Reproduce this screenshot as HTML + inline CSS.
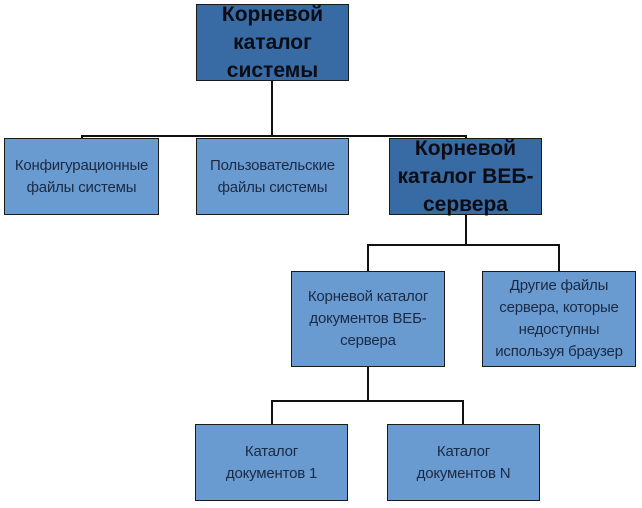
<!DOCTYPE html>
<html><head><meta charset="utf-8"><style>
body{margin:0;width:642px;height:508px;background:#fff;position:relative;overflow:hidden;font-family:"Liberation Sans","DejaVu Sans",sans-serif}
.b{position:absolute;box-sizing:border-box;border:1.5px solid #1a1a1a;display:flex;align-items:center;justify-content:center;text-align:center;color:#1a2a44;font-size:15px;line-height:22px;letter-spacing:-0.2px}
.l{background:#6a9bd0}
.d{background:#386aa3;color:#0c0c14;font-weight:bold;font-size:21px;line-height:28px;letter-spacing:0}
.h,.v{position:absolute;background:#111}
.h{height:2px}.v{width:2px}
</style></head><body>
<div class="v" style="left:271px;top:80px;height:57px"></div>
<div class="h" style="left:81px;top:135px;width:386px"></div>
<div class="v" style="left:81px;top:135px;height:4px"></div>
<div class="v" style="left:465px;top:135px;height:4px"></div>
<div class="v" style="left:465px;top:214px;height:32px"></div>
<div class="h" style="left:367px;top:244px;width:193px"></div>
<div class="v" style="left:367px;top:244px;height:28px"></div>
<div class="v" style="left:558px;top:244px;height:28px"></div>
<div class="v" style="left:367px;top:367px;height:35px"></div>
<div class="h" style="left:271px;top:400px;width:193px"></div>
<div class="v" style="left:271px;top:400px;height:25px"></div>
<div class="v" style="left:462px;top:400px;height:25px"></div>

<div class="b d" style="left:196px;top:4px;width:153px;height:77px">Корневой<br>каталог<br>системы</div>
<div class="b l" style="left:4px;top:138px;width:155px;height:77px">Конфигурационные<br>файлы системы</div>
<div class="b l" style="left:196px;top:138px;width:153px;height:77px">Пользовательские<br>файлы системы</div>
<div class="b d" style="left:389px;top:138px;width:153px;height:77px">Корневой<br>каталог ВЕБ-<br>сервера</div>
<div class="b l" style="left:291px;top:271px;width:154px;height:96px">Корневой каталог<br>документов ВЕБ-<br>сервера</div>
<div class="b l" style="left:482px;top:271px;width:154px;height:96px">Другие файлы<br>сервера, которые<br>недоступны<br>используя браузер</div>
<div class="b l" style="left:195px;top:424px;width:153px;height:77px">Каталог<br>документов 1</div>
<div class="b l" style="left:387px;top:424px;width:153px;height:77px">Каталог<br>документов N</div>
</body></html>
